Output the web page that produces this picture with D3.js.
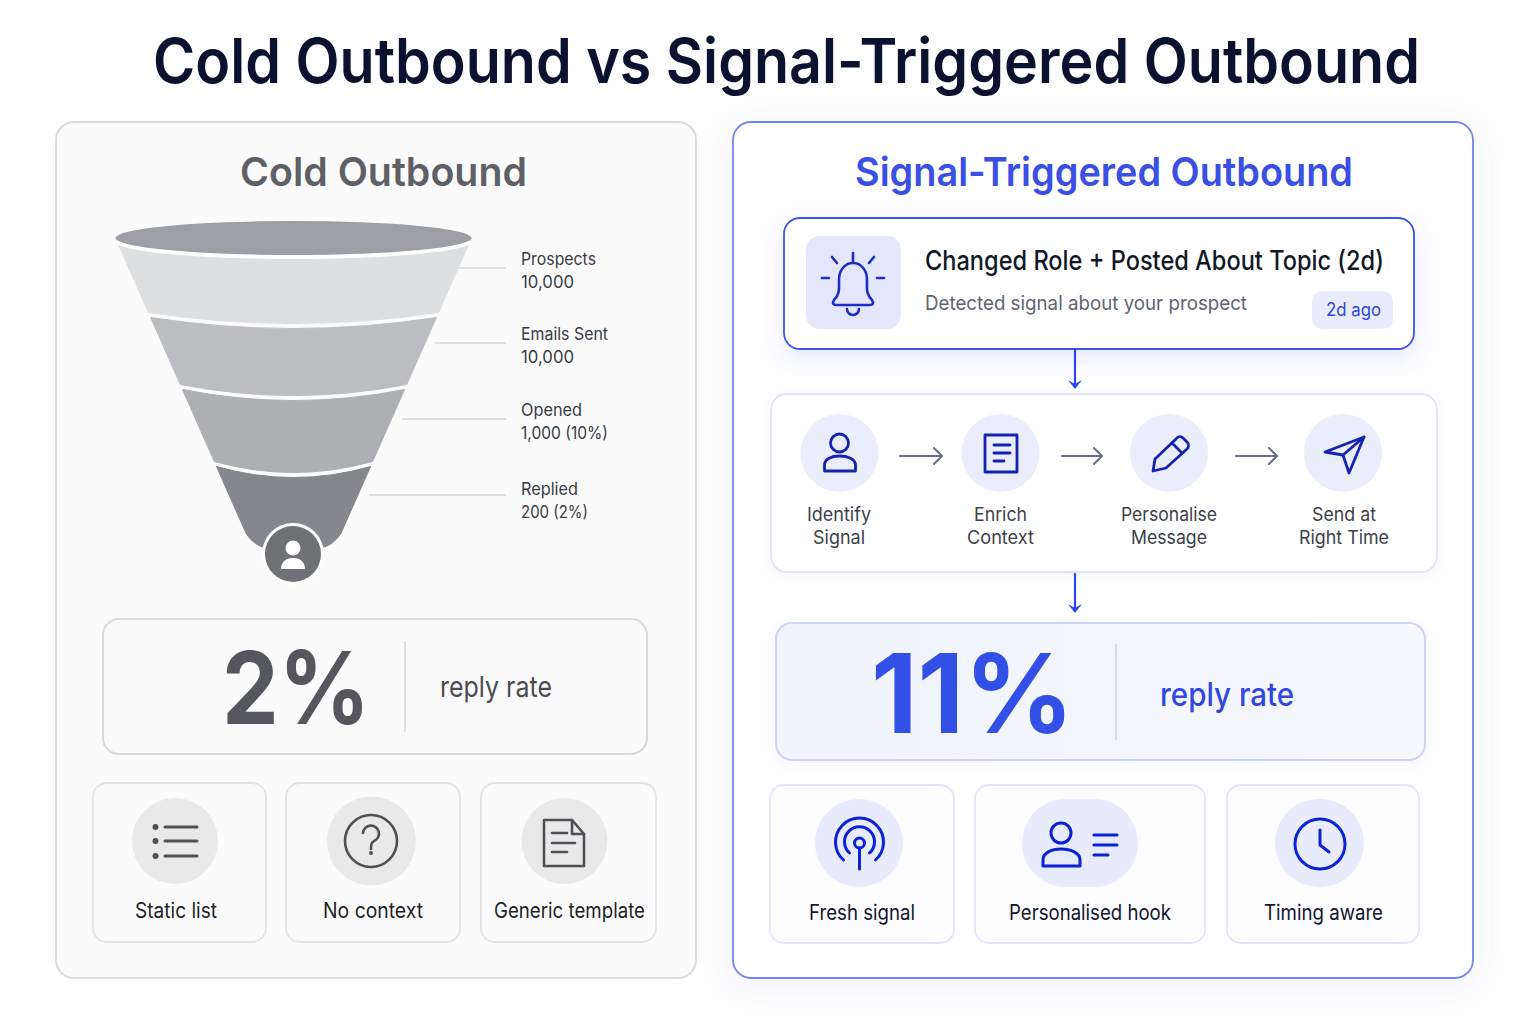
<!DOCTYPE html>
<html>
<head>
<meta charset="utf-8">
<script src="https://cdn.jsdelivr.net/npm/d3@7/dist/d3.min.js"></script>
<style>
  html, body { margin: 0; padding: 0; background: #fefefe; }
  svg { display: block; }
  text { font-family: Inter, "Noto Sans", sans-serif; }
</style>
</head>
<body>
<div id="chart"></div>
<script>
// data
var chartTitle = "Cold Outbound vs Signal-Triggered Outbound";
var panelTitles = ["Cold Outbound", "Signal-Triggered Outbound"];
var funnelStages = ["Prospects", "Emails Sent", "Opened", "Replied"];
var funnelCounts = ["10,000", "10,000", "1,000 (10%)", "200 (2%)"];
var signalTitle = "Changed Role + Posted About Topic (2d)";
var signalText = "Detected signal about your prospect";
var signalBadge = "2d ago";
var stepLines = [["Identify", "Signal"], ["Enrich", "Context"], ["Personalise", "Message"], ["Send at", "Right Time"]];
var replyRates = [2, 11];
var replyLabel = "reply rate";
var coldTraits = ["Static list", "No context", "Generic template"];
var signalTraits = ["Fresh signal", "Personalised hook", "Timing aware"];

var width = 1536, height = 1024;

var svg = d3.select("#chart").append("svg")
    .attr("width", width)
    .attr("height", height)
    .attr("viewBox", "0 0 " + width + " " + height);

var defs = svg.append("defs");

function shadow(id, blur, dy, color, opacity) {
    defs.append("filter").attr("id", id)
        .attr("x", "-20%").attr("y", "-20%").attr("width", "140%").attr("height", "140%")
        .append("feDropShadow")
        .attr("dx", 0).attr("dy", dy).attr("stdDeviation", blur)
        .attr("flood-color", color).attr("flood-opacity", opacity);
}
shadow("panelGlow", 14, 6, "#5f73ee", 0.09);
shadow("cardGlow", 10, 9, "#5f73ee", 0.14);
shadow("softGlow", 5, 3, "#5f73ee", 0.06);

var statFill = defs.append("linearGradient").attr("id", "statFill");
statFill.append("stop").attr("offset", "0%").attr("stop-color", "#f1f3fd");
statFill.append("stop").attr("offset", "100%").attr("stop-color", "#f7f8fe");

function box(x0, y0, x1, y1, r, fill, stroke, sw) {
    return svg.append("rect")
        .attr("x", x0).attr("y", y0)
        .attr("width", x1 - x0).attr("height", y1 - y0)
        .attr("rx", r)
        .attr("fill", fill).attr("stroke", stroke).attr("stroke-width", sw || 1.5);
}

// x0 and x1 are the left and right limits of the string in the picture
function label(str, x0, x1, y, size, weight, fill) {
    return svg.append("text")
        .attr("x", x0).attr("y", y)
        .attr("font-size", size).attr("font-weight", weight).attr("fill", fill)
        .attr("textLength", x1 - x0).attr("lengthAdjust", "spacingAndGlyphs")
        .text(str);
}

function icon(x, y, color, sw, paths) {
    var g = svg.append("g")
        .attr("transform", "translate(" + x + "," + y + ")")
        .attr("fill", "none").attr("stroke", color).attr("stroke-width", sw)
        .attr("stroke-linecap", "round").attr("stroke-linejoin", "round");
    g.selectAll("path").data(paths).enter().append("path").attr("d", function(d) { return d; });
    return g;
}

// title and panels
label(chartTitle, 153, 1420, 82.5, 62, 600, "#0b1230");
box(56, 122, 696, 978, 18, "#fbfbfb", "#dcdcde", 2);
box(733, 122, 1473, 978, 18, "#fefeff", "#7385f0", 1.8).attr("filter", "url(#panelGlow)");
label(panelTitles[0], 240, 527, 186, 40, 600, "#5e6066");
label(panelTitles[1], 855, 1353, 186, 40, 600, "#3a4fe3");

// funnel
var stageEnds = funnelStages.concat(["end"]);
var funnelY = d3.scaleOrdinal().domain(stageEnds).range([238, 315, 387, 464, 548]);
var funnelHalf = d3.scaleLinear().domain([238, 548]).range([178, 41]);
var funnelCx = 293.5;
var bandFill = d3.scaleOrdinal().domain(funnelStages).range(["#dedfe1", "#bcbdc1", "#aeafb3", "#85878c"]);
var leaderY = d3.scaleOrdinal().domain(funnelStages).range([268, 343, 419, 495]);
var leaderX = d3.scaleOrdinal().domain(funnelStages).range([458, 435, 402, 369]);
var stageLabelY = d3.scaleOrdinal().domain(funnelStages).range([265, 340, 416, 495]);
var sag = 22, gap = 2.5;

function bandPath(stage, i) {
    var top = funnelY(stage) + (i === 0 ? 0 : gap);
    var bottom = funnelY(stageEnds[i + 1]) - (i === 3 ? 0 : gap);
    var p = d3.path();
    var ht = funnelHalf(top), hb = funnelHalf(bottom);
    p.moveTo(funnelCx - ht, top);
    p.quadraticCurveTo(funnelCx, top + sag, funnelCx + ht, top);
    if (i === 3) {
        var h2 = funnelHalf(bottom - 14);
        p.lineTo(funnelCx + h2, bottom - 14);
        p.quadraticCurveTo(funnelCx + hb - 2, bottom - 2, funnelCx + hb - 14, bottom);
        p.lineTo(funnelCx - hb + 14, bottom);
        p.quadraticCurveTo(funnelCx - hb + 2, bottom - 2, funnelCx - h2, bottom - 14);
    } else {
        p.lineTo(funnelCx + hb, bottom);
        p.quadraticCurveTo(funnelCx, bottom + sag, funnelCx - hb, bottom);
    }
    p.closePath();
    return p.toString();
}

svg.append("g").selectAll("path").data(funnelStages).enter().append("path")
    .attr("d", bandPath)
    .attr("fill", function(d) { return bandFill(d); })
    .attr("stroke", function(d) { return bandFill(d); })
    .attr("stroke-width", 1)
    .attr("stroke-linejoin", "round");

svg.append("ellipse").attr("cx", funnelCx).attr("cy", 242).attr("rx", 177).attr("ry", 17).attr("fill", "#ffffff");
svg.append("ellipse").attr("cx", funnelCx).attr("cy", 238).attr("rx", 178).attr("ry", 17).attr("fill", "#9e9fa4");

svg.append("g").selectAll("line").data(funnelStages).enter().append("line")
    .attr("x1", function(d) { return leaderX(d); })
    .attr("x2", 506)
    .attr("y1", function(d) { return leaderY(d); })
    .attr("y2", function(d) { return leaderY(d); })
    .attr("stroke", "#d6d7d9").attr("stroke-width", 1.5);

var stageNameEnd = [596, 608, 582, 578];
var stageCountEnd = [574, 574, 608, 588];
funnelStages.forEach(function(s, i) {
    label(s, 521, stageNameEnd[i], stageLabelY(s), 17, 400, "#373a44");
    label(funnelCounts[i], 521, stageCountEnd[i], stageLabelY(s) + 23, 17, 400, "#373a44");
});

svg.append("circle").attr("cx", 293).attr("cy", 554).attr("r", 31).attr("fill", "#ffffff");
svg.append("circle").attr("cx", 293).attr("cy", 554).attr("r", 28).attr("fill", "#707175");
svg.append("circle").attr("cx", 293).attr("cy", 548).attr("r", 7.5).attr("fill", "#ffffff");
svg.append("path").attr("fill", "#ffffff")
    .attr("d", "M281 569 C281 561 287 558 293 558 C299 558 305 561 305 569 Z");

// reply rate boxes
box(103, 619, 647, 754, 16, "#fbfbfb", "#d9dadc", 2);
label(replyRates[0] + "%", 222, 370, 724, 101, 700, "#55575d");
svg.append("line").attr("x1", 405).attr("x2", 405).attr("y1", 641).attr("y2", 732).attr("stroke", "#d5d6d9").attr("stroke-width", 1.5);
label(replyLabel, 440, 552, 697, 29, 400, "#4a4c52");

box(776, 623, 1425, 760, 16, "url(#statFill)", "#cdd4f6", 2).attr("filter", "url(#softGlow)");
label(replyRates[1] + "%", 871, 1074, 733, 110, 700, "#3350e6");
svg.append("line").attr("x1", 1116).attr("x2", 1116).attr("y1", 644).attr("y2", 740).attr("stroke", "#ccd2ee").attr("stroke-width", 1.5);
label(replyLabel, 1160, 1294, 706, 32, 500, "#2f48e0");

// signal card
box(784, 218, 1414, 349, 16, "#ffffff", "#3a55e8", 1.8).attr("filter", "url(#cardGlow)");
box(806, 236, 901, 329, 14, "#e4e7fb", "none", 0);
icon(853, 283, "#1c2fc4", 2.6, [
    "M-19 17 C-13 11 -14 6 -14 -3 C-14 -13 -8 -20 0 -20 C8 -20 14 -13 14 -3 C14 6 13 11 19 17 C21 20 20 22 17 22 H-17 C-20 22 -21 20 -19 17 Z",
    "M-6 26 A6 6 0 0 0 6 26",
    "M0 -30 V-22", "M-21 -26 L-16 -20", "M21 -26 L16 -20", "M-31 -5 H-24", "M24 -5 H31"
]);
label(signalTitle, 925, 1384, 270, 27, 500, "#111827");
label(signalText, 925, 1247, 310, 20, 400, "#5f6470");
box(1312, 291, 1393, 329, 10, "#e9ecfc", "none", 0);
label(signalBadge, 1326, 1381, 316, 18, 400, "#2f46d8");

// process card
box(771, 394, 1437, 572, 16, "#ffffff", "#dfe3f3", 1.8).attr("filter", "url(#softGlow)");

function downArrow(y0, y1) {
    icon(1075, 0, "#2a45ee", 2.2, ["M0 " + y0 + " V" + (y1 - 4)]);
    svg.append("path").attr("fill", "#2a45ee")
        .attr("transform", "translate(1075,0)")
        .attr("d", "M-7 " + (y1 - 9) + " L0 " + (y1 - 5) + " L7 " + (y1 - 9) + " L0 " + y1 + " Z");
}
downArrow(349, 389);
downArrow(574, 613);

var stepX = d3.scaleOrdinal().domain(d3.range(4)).range([839.5, 1000.5, 1169, 1343]);
svg.append("g").selectAll("circle").data(d3.range(4)).enter().append("circle")
    .attr("cx", function(d) { return stepX(d); })
    .attr("cy", 453).attr("r", 39).attr("fill", "#eaedfc");

var stepLineLimits = [[[807, 871], [813, 865]], [[974, 1027], [967, 1034]], [[1121, 1217], [1131, 1207]], [[1312, 1376], [1299, 1389]]];
stepLines.forEach(function(lines, i) {
    lines.forEach(function(s, j) {
        label(s, stepLineLimits[i][j][0], stepLineLimits[i][j][1], 521 + j * 23, 18.5, 400, "#3c3f4a");
    });
});

var arrowSpans = [[900, 942], [1062, 1102], [1236, 1277]];
arrowSpans.forEach(function(a) {
    icon(0, 456, "#6b7080", 2, ["M" + a[0] + " 0 H" + a[1], "M" + (a[1] - 8) + " -8 L" + a[1] + " 0 L" + (a[1] - 8) + " 8"]);
});

var stepBlue = "#1524b0";
icon(839.5, 453, stepBlue, 2.8, [
    "M-9 -10 A9 9 0 1 1 9 -10 A9 9 0 1 1 -9 -10 Z",
    "M-15 18 V12 C-15 6 -8 3 0 3 C8 3 16 6 16 12 V18 Z"
]);
icon(1001, 453, stepBlue, 2.8, ["M-16 -18 H16 V19 H-16 Z", "M-7 -8 H9", "M-7 0 H9", "M-7 8 H3"]);
icon(1169, 453, stepBlue, 2.8, [
    "M-16 18 L-14 6 L7 -14 C9 -17 12 -17 14 -15 L18 -11 C20 -9 20 -6 18 -4 L-3 15 Z",
    "M3 -10 L13 0"
]);
icon(1343, 453, stepBlue, 2.8, ["M21 -16 L-18 -1 L0 2 L6 20 Z", "M0 2 L21 -16"]);

// trait cards, left
var coldCards = [[93, 266], [286, 460], [481, 656]];
var coldLabelLimits = [[135, 217], [323, 423], [494, 645]];
coldTraits.forEach(function(t, i) {
    box(coldCards[i][0], 783, coldCards[i][1], 942, 14, "#fbfbfb", "#e2e3e4", 1.8);
    label(t, coldLabelLimits[i][0], coldLabelLimits[i][1], 918, 21, 400, "#1d1f26");
});
var coldCx = [175, 371.5, 564.5];
var coldR = [43, 44.5, 43];
svg.append("g").selectAll("circle").data(coldCx).enter().append("circle")
    .attr("cx", function(d) { return d; }).attr("cy", 841)
    .attr("r", function(d, i) { return coldR[i]; }).attr("fill", "#e9e9ea");

var grey = "#4e5056";
icon(175, 841, grey, 3, ["M-10 -14 H22", "M-10 0 H22", "M-10 15 H22"]);
svg.append("g").attr("fill", grey).selectAll("circle").data([-14, 0, 15]).enter().append("circle")
    .attr("cx", 155.5).attr("cy", function(d) { return 841 + d; }).attr("r", 3);
icon(371, 841, grey, 2.6, ["M-26 0 A26 26 0 1 1 26 0 A26 26 0 1 1 -26 0 Z", "M-8 -8 A8 8 0 1 1 3 0 C0 2 0 4 0 8"]);
svg.append("circle").attr("cx", 371).attr("cy", 853).attr("r", 2).attr("fill", grey);
icon(564, 843, grey, 2.6, ["M-20 -23 H8 L20 -9 V23 H-20 Z", "M8 -23 V-9 H20", "M-12 -10 H3", "M-12 0 H11", "M-12 9 H3"]);

// trait cards, right
var signalCards = [[770, 954], [975, 1205], [1227, 1419]];
var signalLabelLimits = [[809, 915], [1009, 1171], [1264, 1383]];
signalTraits.forEach(function(t, i) {
    box(signalCards[i][0], 785, signalCards[i][1], 943, 14, "#fdfdff", "#e2e6fa", 1.8);
    label(t, signalLabelLimits[i][0], signalLabelLimits[i][1], 920, 21, 400, "#12162e");
});
box(815, 799, 903, 887, 44, "#e8ebfb", "none", 0);
box(1022, 799, 1138, 887, 44, "#e8ebfb", "none", 0);
box(1275, 799, 1364, 887, 44, "#e8ebfb", "none", 0);

var bright = "#0b22d6";
icon(859.5, 843, bright, 3, [
    "M-16 17 A24 24 0 1 1 16 17",
    "M-10 10 A15 15 0 1 1 10 10",
    "M-5 0 A5 5 0 1 1 5 0 A5 5 0 1 1 -5 0 Z",
    "M0 5 V26"
]);
icon(1061, 843, bright, 3, [
    "M-10 -10 A10 10 0 1 1 10 -10 A10 10 0 1 1 -10 -10 Z",
    "M-18 23 V17 C-18 10 -10 6 0 6 C10 6 19 10 19 17 V23 Z",
    "M33 -8 H56", "M33 2 H56", "M33 12 H47"
]);
icon(1320, 844, bright, 3, ["M-25 0 A25 25 0 1 1 25 0 A25 25 0 1 1 -25 0 Z", "M0 -14 V1 L9 8"]);
</script>
</body>
</html>
